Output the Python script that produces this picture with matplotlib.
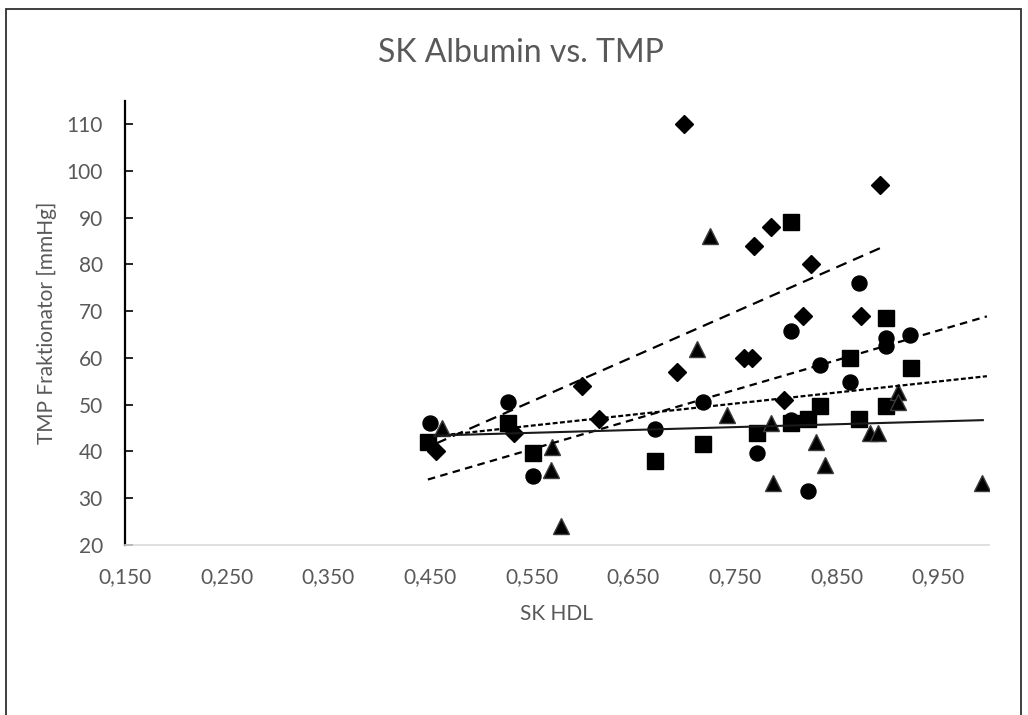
import matplotlib
matplotlib.use("Agg")
import matplotlib.pyplot as plt
from matplotlib.patches import Rectangle

plt.rcParams['font.family'] = ['Lato', 'DejaVu Sans']

# SK HDL (x) vs TMP Fraktionator (y), vier Messreihen
karo_x = [0.456, 0.533, 0.600, 0.616, 0.693, 0.700, 0.759, 0.767, 0.769, 0.786,
          0.798, 0.817, 0.825, 0.874, 0.893]
karo_y = [40, 44, 54, 47, 57, 110, 60, 60, 84, 88, 51, 69, 80, 69, 97]

kreis_x = [0.450, 0.527, 0.551, 0.671, 0.719, 0.772, 0.805, 0.805, 0.822, 0.834,
           0.863, 0.872, 0.899, 0.899, 0.922]
kreis_y = [46, 50.6, 34.7, 44.7, 50.6, 39.7, 65.7, 46.7, 31.6, 58.6,
           54.9, 76, 64.2, 62.6, 65]

quadrat_x = [0.448, 0.527, 0.551, 0.671, 0.719, 0.772, 0.805, 0.805, 0.822, 0.834,
             0.863, 0.872, 0.899, 0.899, 0.923]
quadrat_y = [42, 46, 39.7, 38, 41.7, 44, 89, 46, 47, 49.7,
             60, 47, 68.6, 49.7, 57.8]

dreieck_x = [0.462, 0.569, 0.570, 0.579, 0.713, 0.726, 0.742, 0.786, 0.788, 0.830,
             0.839, 0.883, 0.891, 0.911, 0.911, 0.993]
dreieck_y = [45, 36, 41, 24, 62, 86, 47.8, 46, 33.2, 42,
             37, 44, 44, 52.8, 50.6, 33.2]

# lineare Trendlinien (Anfangs- und Endpunkt)
trend_lang_x = [0.456, 0.893]
trend_lang_y = [41.7, 83.5]
trend_mittel_x = [0.448, 0.998]
trend_mittel_y = [34.0, 68.9]
trend_kurz_x = [0.456, 0.998]
trend_kurz_y = [43.3, 56.1]
trend_solid_x = [0.454, 0.994]
trend_solid_y = [43.4, 46.7]

x_ticks = [0.15, 0.25, 0.35, 0.45, 0.55, 0.65, 0.75, 0.85, 0.95]
y_ticks = [20, 30, 40, 50, 60, 70, 80, 90, 100, 110]

grau = '#595959'

fig = plt.figure(figsize=(10.28, 7.15), dpi=100)
ax = fig.add_axes([0.1216, 0.2378, 0.8404, 0.6212])

ax.plot(karo_x, karo_y, 'D', color='black', ms=8.8, zorder=3)
ax.plot(kreis_x, kreis_y, 'o', color='black', ms=10.8, zorder=3)
ax.plot(quadrat_x, quadrat_y, 's', color='black', ms=11.2, zorder=3)
ax.plot(dreieck_x, dreieck_y, '^', color='black', mec='#3c3c3c', ms=12, zorder=3)

ax.plot(trend_lang_x, trend_lang_y, color='black', lw=1.6, ls=(0, (5, 3.2)), zorder=4)
ax.plot(trend_mittel_x, trend_mittel_y, color='black', lw=1.6, ls=(0, (3.4, 2.4)), zorder=4)
ax.plot(trend_kurz_x, trend_kurz_y, color='black', lw=1.6, ls=(0, (2.2, 1.1)), zorder=4)
ax.plot(trend_solid_x, trend_solid_y, color='#1a1a1a', lw=1.5, zorder=4)

ax.set_xlim(0.15, 1.0)
ax.set_ylim(20, 115)
ax.set_xticks(x_ticks)
ax.set_xticklabels([f"{t:.3f}".replace('.', ',') for t in x_ticks])
ax.set_yticks(y_ticks)

for s in ['top', 'right']:
    ax.spines[s].set_visible(False)
ax.spines['left'].set_color('black')
ax.spines['left'].set_linewidth(1.6)
ax.spines['bottom'].set_color('#d9d9d9')
ax.spines['bottom'].set_linewidth(1.2)

ax.tick_params(axis='y', direction='in', length=6, width=1.2, color='black',
               labelsize=15, labelcolor=grau, pad=16)
ax.tick_params(axis='x', length=0, labelsize=15, labelcolor=grau, pad=16)

ax.set_xlabel('SK HDL', fontsize=15, color=grau, labelpad=12)
ax.set_ylabel('TMP Fraktionator [mmHg]', fontsize=15, color=grau, labelpad=7)

fig.text(0.507, 0.926, 'SK Albumin vs. TMP', fontsize=23, color=grau,
         ha='center', va='center')

# Rahmen um das Diagramm
fig.patches.append(Rectangle((0.0058, -0.1), 0.9874, 1.0874, transform=fig.transFigure,
                             fill=False, edgecolor='#303030', lw=1.3))

fig.savefig('out.png', dpi=100)
